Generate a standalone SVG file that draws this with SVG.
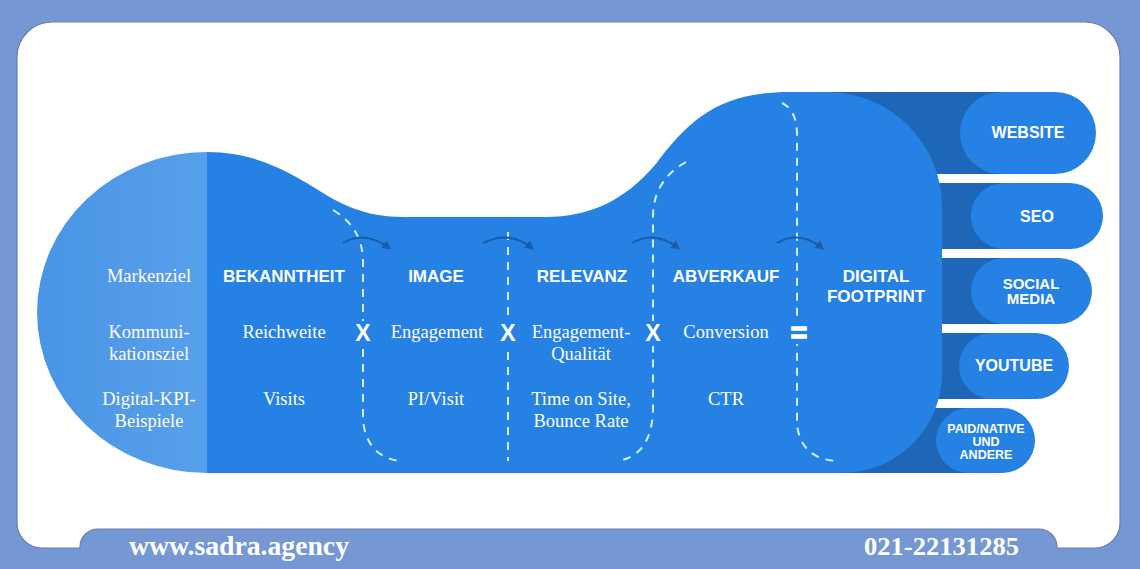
<svg xmlns="http://www.w3.org/2000/svg" width="1140" height="569" viewBox="0 0 1140 569">
<defs>
<linearGradient id="gLeft" x1="0" y1="0" x2="1" y2="0"><stop offset="0" stop-color="#4a94e6"/><stop offset="1" stop-color="#57a0eb"/></linearGradient>
<marker id="ah" viewBox="0 0 10 10" refX="7" refY="5" markerWidth="9" markerHeight="9" markerUnits="userSpaceOnUse" orient="auto"><path d="M0,0 L10,5 L0,10 z" fill="#1b5ca8"/></marker>
<style>
.lbl{font-family:"Liberation Serif","Times New Roman",serif;font-size:18.5px;fill:#fff;text-anchor:middle}
.hd{font-family:"Liberation Sans",Arial,sans-serif;font-weight:700;font-size:17px;fill:#fff;text-anchor:middle}
.op{font-family:"Liberation Sans",Arial,sans-serif;font-weight:700;font-size:23px;fill:#fff;text-anchor:middle}
.pt{font-family:"Liberation Sans",Arial,sans-serif;font-weight:700;font-size:16px;fill:#fff;text-anchor:middle}
.pill{fill:#2582e4}
.strip{fill:#1e66b8}
.dash{fill:none;stroke:#d3efff;stroke-width:2;stroke-dasharray:8 7}
.arr{fill:none;stroke:#1b5ca8;stroke-width:2}
.ft{font-family:"Liberation Serif","Times New Roman",serif;font-weight:700;fill:#fff}
.gap{fill:#2582e4}
</style>
</defs>
<rect x="0" y="0" width="1140" height="569" fill="#7597d4"/>
<path d="M52,22 H1085 A35,35 0 0 1 1120,57 V523 A25,25 0 0 1 1095,548 H1057 A18,18 0 0 0 1039,529 H98 A18,18 0 0 0 80,547 V548 H42 A25,25 0 0 1 17,523 V57 A35,35 0 0 1 52,22 Z" fill="#ffffff" stroke="#6c7cad" stroke-width="1.2"/>

<g id="channel-strips">
<rect class="strip" x="800" y="92" width="230" height="82"/>
<rect class="strip" x="800" y="183" width="230" height="66"/>
<rect class="strip" x="800" y="258" width="230" height="66"/>
<rect class="strip" x="800" y="333" width="200" height="66"/>
<rect class="strip" x="800" y="408" width="180" height="65"/>
</g>

<g id="foot">
<path d="M207,152 C265,152 300,180 335,200 C360,213 380,217 405,217 L545,217 C590,217 625,200 655,165 C690,118 720,92 790,92 L827,92 A115,115 0 0 1 942,207 L942,373 A100,100 0 0 1 842,473 L207,473 Z" fill="#2582e4"/>
<path d="M207,152 A170,160.5 0 0 0 207,473 Z" fill="url(#gLeft)"/>
</g>

<g id="col-labels">
<text class="lbl" x="149" y="282">Markenziel</text>
<text class="lbl" x="149" y="338">Kommuni-</text>
<text class="lbl" x="149" y="360">kationsziel</text>
<text class="lbl" x="149" y="405">Digital-KPI-</text>
<text class="lbl" x="149" y="427">Beispiele</text>
</g>
<g id="col-bekanntheit">
<text class="hd" x="284" y="282">BEKANNTHEIT</text>
<text class="lbl" x="284" y="338">Reichweite</text>
<text class="lbl" x="284" y="405">Visits</text>
</g>
<g id="col-image">
<text class="hd" x="436" y="282">IMAGE</text>
<text class="lbl" x="437" y="338">Engagement</text>
<text class="lbl" x="436" y="405">PI/Visit</text>
</g>
<g id="col-relevanz">
<text class="hd" x="582" y="282">RELEVANZ</text>
<text class="lbl" x="581" y="338">Engagement-</text>
<text class="lbl" x="581" y="360">Qualität</text>
<text class="lbl" x="581" y="405">Time on Site,</text>
<text class="lbl" x="581" y="427">Bounce Rate</text>
</g>
<g id="col-abverkauf">
<text class="hd" x="726" y="282">ABVERKAUF</text>
<text class="lbl" x="726" y="338">Conversion</text>
<text class="lbl" x="726" y="405">CTR</text>
</g>
<g id="col-footprint">
<text class="hd" x="876" y="282">DIGITAL</text>
<text class="hd" x="876" y="302">FOOTPRINT</text>
</g>

<g id="connectors">
<path class="dash" d="M333,210 Q363,228 363,262 L363,415 C363,440 375,458 400,461"/>
<path class="dash" d="M508,232 L508,461"/>
<path class="dash" d="M686,162 Q654,180 653,215 L653,407 C653,440 640,458 617,461"/>
<path class="dash" d="M782,103 Q797,110 797,135 L797,420 C797,445 812,460 837,461"/>
<path class="arr" marker-end="url(#ah)" d="M343,243 Q365,230 389,248"/>
<path class="arr" marker-end="url(#ah)" d="M483,243 Q510,230 532,248"/>
<path class="arr" marker-end="url(#ah)" d="M632,243 Q655,230 678,248"/>
<path class="arr" marker-end="url(#ah)" d="M777,243 Q800,230 822,248"/>
</g>

<g id="operators">
<rect class="gap" x="353" y="321" width="20" height="25"/>
<rect class="gap" x="498" y="321" width="20" height="25"/>
<rect class="gap" x="643" y="321" width="20" height="25"/>
<rect class="gap" x="788" y="321" width="21" height="23"/>
<text class="op" x="363" y="341">X</text>
<text class="op" x="508" y="341">X</text>
<text class="op" x="653" y="341">X</text>
<text class="op" x="799" y="342" style="font-size:28px;stroke:#fff;stroke-width:1.6">=</text>
</g>

<g id="pill-website"><rect class="pill" x="960" y="92" width="136" height="82" rx="41"/><text class="pt" x="1028" y="138">WEBSITE</text></g>
<g id="pill-seo"><rect class="pill" x="971" y="183" width="132" height="66" rx="33"/><text class="pt" x="1037" y="222">SEO</text></g>
<g id="pill-social"><rect class="pill" x="971" y="258" width="121" height="66" rx="33"/><text class="pt" x="1031" y="289" style="font-size:15px">SOCIAL</text><text class="pt" x="1031" y="304" style="font-size:15px">MEDIA</text></g>
<g id="pill-youtube"><rect class="pill" x="959" y="333" width="110" height="66" rx="33"/><text class="pt" x="1014" y="371">YOUTUBE</text></g>
<g id="pill-paid"><rect class="pill" x="936" y="408" width="99" height="65" rx="32.5"/><text class="pt" x="986" y="433" style="font-size:12.5px">PAID/NATIVE</text><text class="pt" x="986" y="446" style="font-size:12.5px">UND</text><text class="pt" x="986" y="459" style="font-size:12.5px">ANDERE</text></g>

<g id="footer">
<text class="ft" x="129" y="555" font-size="27" textLength="220" lengthAdjust="spacingAndGlyphs">www.sadra.agency</text>
<text class="ft" x="864" y="555" font-size="25" textLength="155" lengthAdjust="spacingAndGlyphs">021-22131285</text>
</g>
</svg>
